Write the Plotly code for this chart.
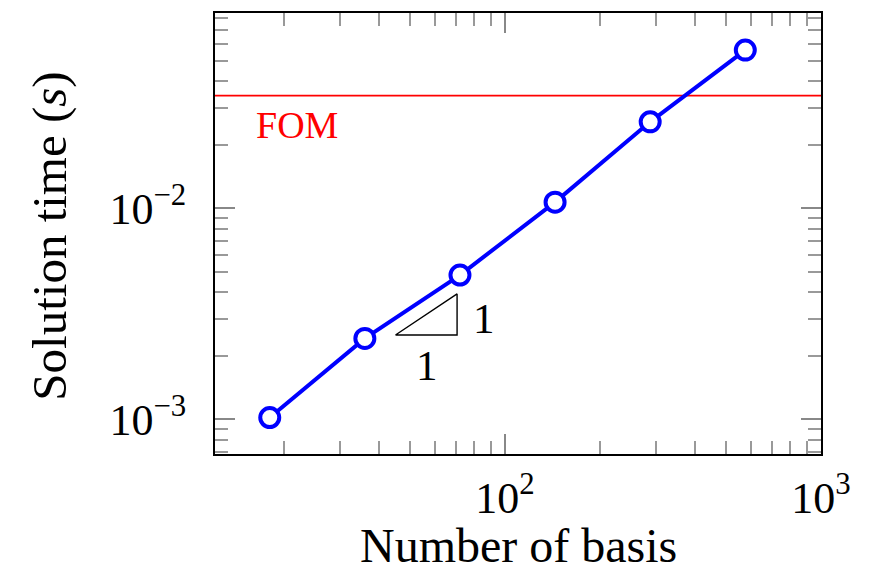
import plotly.graph_objects as go

# Solution time versus number of basis functions
n_basis = [18, 36, 72, 144, 288, 576]
solve_time = [1.02e-3, 2.42e-3, 4.83e-3, 1.07e-2, 2.57e-2, 5.62e-2]

# Full-order model reference time
fom_time = 3.42e-2
fom_label = "FOM"

# Slope-1 reference triangle
tri_x = [45, 70.5, 70.5, 45]
tri_y = [2.51e-3, 2.51e-3, 3.93e-3, 2.51e-3]
slope_run_label = "1"
slope_rise_label = "1"

x_title = "Number of basis"
y_title = "Solution time (<i>s</i>)"

x_ticks = [100, 1000]
x_ticktext = ["10<sup>2</sup>", "10<sup>3</sup>"]
y_ticks = [1e-3, 1e-2]
y_ticktext = ["10<sup>\u22123</sup>", "10<sup>\u22122</sup>"]
x_minor = [20, 30, 40, 50, 60, 70, 80, 90, 200, 300, 400, 500, 600, 700, 800, 900]
y_minor = [7e-4, 8e-4, 9e-4, 2e-3, 3e-3, 4e-3, 5e-3, 6e-3, 7e-3, 8e-3, 9e-3,
           2e-2, 3e-2, 4e-2, 5e-2, 6e-2, 7e-2, 8e-2]

FONT = "Liberation Serif"
TICK_SIZE = 44

fig = go.Figure()

fig.add_trace(go.Scatter(
    x=[10 ** 1.082, 1000], y=[fom_time, fom_time], mode="lines",
    line=dict(color="red", width=1.6), hoverinfo="skip", showlegend=False))

fig.add_trace(go.Scatter(
    x=tri_x, y=tri_y, mode="lines",
    line=dict(color="black", width=1.4), hoverinfo="skip", showlegend=False))

fig.add_trace(go.Scatter(
    x=n_basis, y=solve_time, mode="lines+markers",
    line=dict(color="#0000ff", width=4),
    marker=dict(symbol="circle", size=19, color="white",
                line=dict(color="#0000ff", width=4)),
    showlegend=False))

fig.add_annotation(x=1.342, y=-1.605, xref="x", yref="y", text=fom_label,
                   showarrow=False, font=dict(family=FONT, size=38, color="red"))
fig.add_annotation(x=1.934, y=-2.52, xref="x", yref="y", text=slope_rise_label,
                   showarrow=False, font=dict(family=FONT, size=43, color="black"))
fig.add_annotation(x=1.753, y=-2.747, xref="x", yref="y", text=slope_run_label,
                   showarrow=False, font=dict(family=FONT, size=43, color="black"))

# Axis titles placed relative to the plotting area
fig.add_annotation(x=0.5, y=-0.2715, xref="paper", yref="paper", text=x_title,
                   showarrow=False, xanchor="center", yanchor="bottom",
                   font=dict(family=FONT, size=48, color="black"))
fig.add_annotation(x=-0.273, y=0.494, xref="paper", yref="paper", text=y_title,
                   showarrow=False, xanchor="center", yanchor="middle", textangle=-90,
                   font=dict(family=FONT, size=49, color="black"))

axis_common = dict(
    showgrid=False, zeroline=False, automargin=False,
    showline=True, linecolor="black", linewidth=2, mirror="allticks",
    ticks="inside", ticklen=20, tickwidth=1.5, tickcolor="#888888",
    tickfont=dict(family=FONT, size=TICK_SIZE, color="black"),
)

fig.update_xaxes(
    type="log", range=[1.082, 3.0],
    tickmode="array", tickvals=x_ticks, ticktext=x_ticktext,
    minor=dict(tickmode="array", tickvals=x_minor, ticks="inside",
               ticklen=13, tickwidth=1.5, tickcolor="#999999", showgrid=False),
    ticklabelstandoff=4,
    **axis_common)

fig.update_yaxes(
    type="log", range=[-3.164, -1.0744],
    tickmode="array", tickvals=y_ticks, ticktext=y_ticktext,
    minor=dict(tickmode="array", tickvals=y_minor, ticks="inside",
               ticklen=13, tickwidth=1.5, tickcolor="#999999", showgrid=False),
    ticklabelstandoff=18,
    **axis_common)

fig.update_layout(
    width=875, height=574,
    margin=dict(l=215, r=54, t=13, b=120),
    paper_bgcolor="white", plot_bgcolor="white",
    font=dict(family=FONT),
)

fig.write_html("out.html")
